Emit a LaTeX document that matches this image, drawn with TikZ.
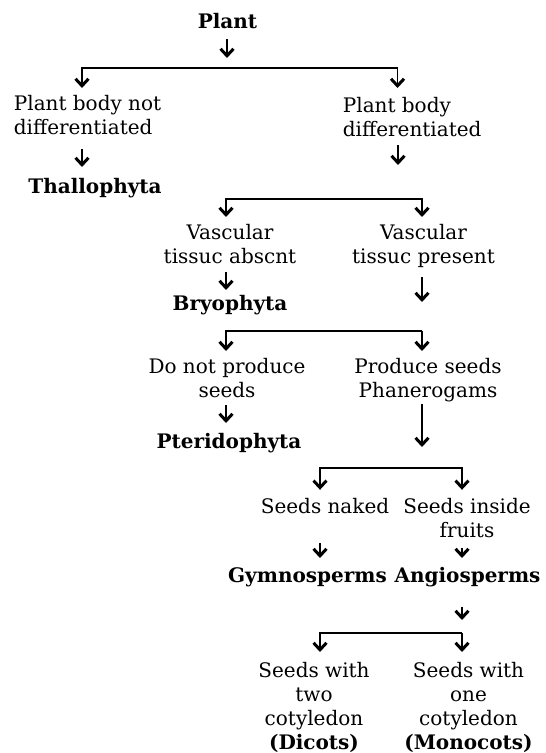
\documentclass[tikz,border=0pt]{standalone}
\usepackage{fontspec}
\setmainfont{DejaVu Serif}
\usetikzlibrary{positioning, calc, arrows.meta}

\begin{document}
\begin{tikzpicture}[x=0.5pt, y=-0.5pt, line width=0.9pt,
    >={Straight Barb[length=3.5pt,width=6.5pt,line width=1.5pt]},
    font=\fontsize{10}{11.9}\selectfont]

    % Styles for the text boxes and the arrows
    \tikzset{
        note/.style={inner sep=0pt, align=center, anchor=north},
        cls/.style={note, font=\fontsize{10}{11.9}\selectfont\bfseries},
        arr/.style={->}
    }

    \useasboundingbox (0,0) rectangle (545,753);

    % ==========================================
    % Text of the tree
    % ==========================================
    \node[cls] (plant) at (227.5,12.8) {Plant};
    \node[note, align=left, anchor=north west] (nd) at (13,94.8) {Plant body not\\differentiated};
    \node[note, align=left, anchor=north west] (d) at (342,96.8) {Plant body\\differentiated};
    \node[cls] (thal) at (95,177.8) {Thallophyta};

    \node[note] (va) at (230,223.8) {Vascular\\tissuc abscnt};
    \node[note] (vp) at (423.5,223.8) {Vascular\\tissuc present};
    \node[cls] (bryo) at (230,294.8) {Bryophyta};

    \node[note] (np) at (227,357.8) {Do not produce\\seeds};
    \node[note] (ps) at (428,357.8) {Produce seeds\\Phanerogams};
    \node[cls] (pter) at (229,432.8) {Pteridophyta};

    \node[note] (sn) at (325,497.8) {Seeds naked};
    \node[note] (sf) at (467,497.8) {Seeds inside\\fruits};
    \node[cls] (gym) at (307.5,566.8) {Gymnosperms};
    \node[cls] (ang) at (467.5,566.8) {Angiosperms};

    \node[note] (dic) at (314,661.8) {Seeds with\\two\\cotyledon\\\textbf{(Dicots)}};
    \node[note] (mon) at (468.5,661.8) {Seeds with\\one\\cotyledon\\\textbf{(Monocots)}};

    % Fork points of the brackets
    \coordinate (f1) at (227,68);
    \coordinate (f1l) at (82,68);
    \coordinate (f1r) at (397.5,68);
    \coordinate (f2) at (398,199);
    \coordinate (f2l) at (226,199);
    \coordinate (f2r) at (422,199);
    \coordinate (f3) at (422,331);
    \coordinate (f3l) at (226,331);
    \coordinate (f4) at (422,468);
    \coordinate (f4l) at (320,468);
    \coordinate (f4r) at (462,468);
    \coordinate (f5) at (462,633);
    \coordinate (f5l) at (320,633);

    % ==========================================
    % Arrows and brackets
    % ==========================================
    \draw[arr, shorten <=4.5pt, shorten >=5pt] (plant.south -| f1) -- (f1);
    \draw[arr, shorten >=3.4pt] (f1) -| (nd.north -| f1l);
    \draw[arr, shorten >=4.4pt] (f1) -| (d.north -| f1r);
    \draw[arr, shorten <=6.6pt, shorten >=5.4pt] (nd.south -| f1l) -- (thal.north -| f1l);

    \draw[arr, shorten <=3.6pt, shorten >=17pt] (d.south -| f2) -- (f2);
    \draw[arr, shorten >=3.4pt] (f2) -| (va.north -| f2l);
    \draw[arr, shorten >=3.4pt] (f2) -| (vp.north -| f2r);
    \draw[arr, shorten <=3.6pt, shorten >=2.4pt] (va.south -| f2l) -- (bryo.north -| f2l);

    \draw[arr, shorten <=4.25pt, shorten >=14.5pt] (vp.south -| f3) -- (f3);
    \draw[arr, shorten >=3.4pt] (f3) -| (np.north -| f3l);
    \draw[arr, shorten >=3.4pt] (f3) -- (ps.north -| f3);
    \draw[arr, shorten <=3.1pt, shorten >=4.9pt] (np.south -| f3l) -- (pter.north -| f3l);

    \draw[arr, shorten <=0.3pt, shorten >=10.5pt] (ps.south -| f4) -- (f4);
    \draw[arr, shorten >=4pt] (f4) -| (sn.north -| f4l);
    \draw[arr, shorten >=4pt] (f4) -| (sf.north -| f4r);
    \draw[arr, shorten <=14pt, shorten >=4.4pt] (sn.south -| f4l) -- (gym.north -| f4l);
    \draw[arr, shorten <=4.6pt, shorten >=4.4pt] (sf.south -| f4r) -- (ang.north -| f4r);

    \draw[arr, shorten <=9.2pt, shorten >=6.5pt] (ang.south -| f5) -- (f5);
    \draw[arr, shorten >=4.9pt] (f5) -| (dic.north -| f5l);
    \draw[arr, shorten >=4.9pt] (f5) -- (mon.north -| f5);

\end{tikzpicture}
\end{document}
